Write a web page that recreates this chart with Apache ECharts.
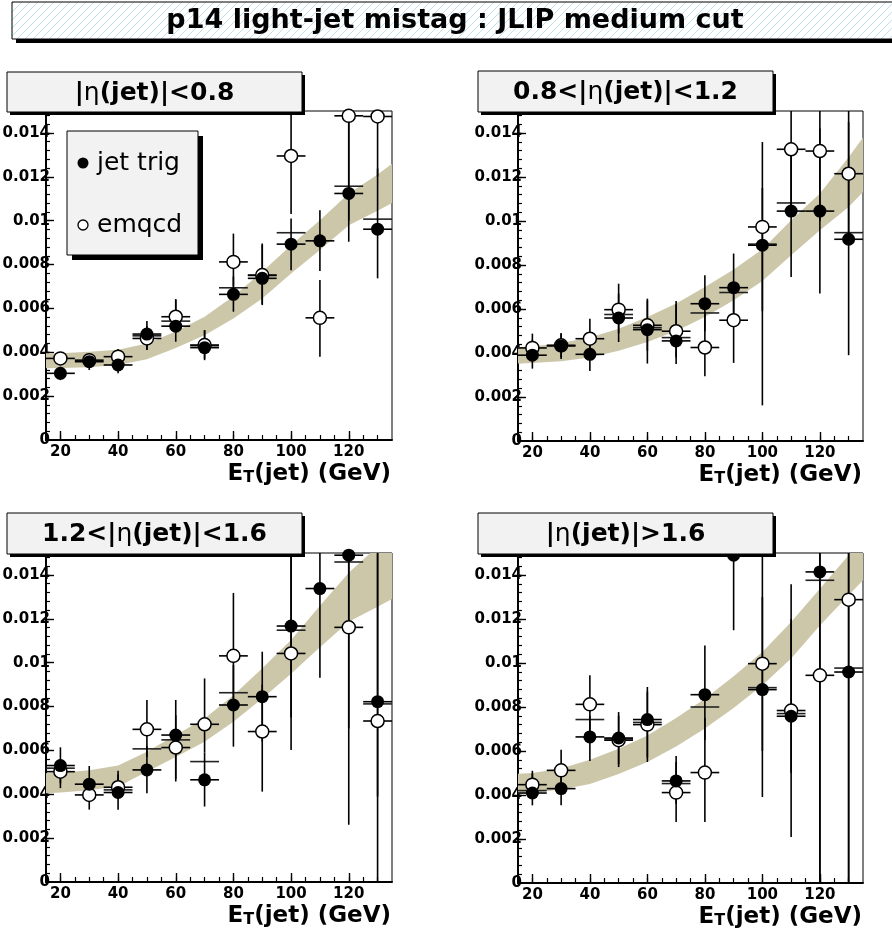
<!DOCTYPE html>
<html><head><meta charset="utf-8">
<script src="https://cdn.jsdelivr.net/npm/echarts@6/dist/echarts.min.js"></script>
<style>html,body{margin:0;padding:0;background:#fff}#c{width:892px;height:934px}</style>
</head><body><div id="c"></div>
<script>
// ---------------- data ----------------
const etBins = [20, 30, 40, 50, 60, 70, 80, 90, 100, 110, 120, 130];
const binHalfWidth = 5;
const xTickLabels = [20, 40, 60, 80, 100, 120];
const yTickLabels = [0, 0.002, 0.004, 0.006, 0.008, 0.01, 0.012, 0.014];
const bandX = [15, 20, 30, 40, 50, 60, 70, 80, 90, 100, 110, 120, 130, 135];

// panel 1 : |eta|<0.8
const p1JetVal = [3.04e-3, 3.57e-3, 3.42e-3, 4.83e-3, 5.19e-3, 4.21e-3, 6.64e-3, 7.37e-3, 8.93e-3, 9.08e-3, 11.24e-3, 9.61e-3];
const p1JetLo  = [2.73e-3, 3.19e-3, 3.04e-3, 4.10e-3, 4.48e-3, 3.64e-3, 5.85e-3, 6.15e-3, 7.74e-3, 7.70e-3, 9.04e-3, 7.37e-3];
const p1JetHi  = [3.34e-3, 3.90e-3, 3.80e-3, 5.42e-3, 6.42e-3, 5.01e-3, 7.45e-3, 8.96e-3, 10.1e-3, 10.48e-3, 16e-3, 12.38e-3];
const p1EmVal  = [3.72e-3, 3.64e-3, 3.80e-3, 4.63e-3, 5.62e-3, 4.33e-3, 8.12e-3, 7.52e-3, 12.95e-3, 5.57e-3, 14.78e-3, 14.75e-3];
const p1EmLo   = [3.45e-3, 3.35e-3, 3.50e-3, 4.10e-3, 4.90e-3, 3.70e-3, 7.00e-3, 6.20e-3, 10.3e-3, 3.80e-3, 10e-3, 12e-3];
const p1EmHi   = [3.98e-3, 3.95e-3, 4.15e-3, 5.20e-3, 6.40e-3, 5.00e-3, 9.41e-3, 8.90e-3, 16e-3, 7.30e-3, 16e-3, 16e-3];
const p1Extra  = [null, null, null, 4.75e-3, 5.42e-3, 4.30e-3, 6.94e-3, 7.50e-3, 9.45e-3, null, 11.57e-3, 10.07e-3];
const p1BandUp = [3.95e-3, 3.96e-3, 4.02e-3, 4.12e-3, 4.40e-3, 4.95e-3, 5.62e-3, 6.55e-3, 7.67e-3, 8.88e-3, 10.02e-3, 11.24e-3, 12.1e-3, 12.6e-3];
const p1BandLo = [3.27e-3, 3.28e-3, 3.32e-3, 3.42e-3, 3.68e-3, 4.20e-3, 4.78e-3, 5.54e-3, 6.45e-3, 7.59e-3, 8.66e-3, 9.79e-3, 10.45e-3, 10.8e-3];

// panel 2 : 0.8<|eta|<1.2
const p2JetVal = [3.90e-3, 4.32e-3, 3.94e-3, 5.59e-3, 5.06e-3, 4.55e-3, 6.24e-3, 6.97e-3, 8.90e-3, 10.45e-3, 10.45e-3, 9.17e-3];
const p2JetLo  = [3.29e-3, 3.73e-3, 3.18e-3, 4.50e-3, 3.52e-3, 3.50e-3, 5.00e-3, 5.50e-3, 1.62e-3, 7.45e-3, 6.70e-3, 3.90e-3];
const p2JetHi  = [4.60e-3, 4.90e-3, 4.70e-3, 6.70e-3, 6.47e-3, 6.36e-3, 7.53e-3, 8.52e-3, 11.5e-3, 13.5e-3, 14.2e-3, 14.5e-3];
const p2EmVal  = [4.23e-3, 4.35e-3, 4.65e-3, 5.97e-3, 5.26e-3, 4.99e-3, 4.25e-3, 5.49e-3, 9.73e-3, 13.26e-3, 13.18e-3, 12.15e-3];
const p2EmLo   = [3.60e-3, 3.80e-3, 3.90e-3, 4.90e-3, 4.10e-3, 3.80e-3, 2.94e-3, 3.55e-3, 5.90e-3, 10.5e-3, 10e-3, 9e-3];
const p2EmHi   = [4.88e-3, 4.90e-3, 5.56e-3, 7.15e-3, 6.40e-3, 6.20e-3, 5.86e-3, 7.00e-3, 13.59e-3, 16e-3, 16e-3, 16e-3];
const p2Extra  = [null, null, null, 5.75e-3, 5.15e-3, 4.70e-3, 5.82e-3, 6.75e-3, 8.95e-3, 10.82e-3, null, 9.47e-3];
const p2BandUp = [4.27e-3, 4.30e-3, 4.45e-3, 4.70e-3, 5.10e-3, 5.64e-3, 6.25e-3, 7.00e-3, 7.80e-3, 8.72e-3, 10.03e-3, 11.25e-3, 12.9e-3, 13.79e-3];
const p2BandLo = [3.52e-3, 3.54e-3, 3.62e-3, 3.79e-3, 4.10e-3, 4.50e-3, 5.00e-3, 5.64e-3, 6.40e-3, 7.27e-3, 8.44e-3, 9.58e-3, 10.64e-3, 11.32e-3];

// panel 3 : 1.2<|eta|<1.6
const p3JetVal = [5.31e-3, 4.46e-3, 4.08e-3, 5.11e-3, 6.70e-3, 4.66e-3, 8.07e-3, 8.45e-3, 11.67e-3, 13.38e-3, 14.9e-3, 8.22e-3];
const p3JetLo  = [4.28e-3, 3.67e-3, 3.29e-3, 4.05e-3, 4.58e-3, 3.44e-3, 6.17e-3, 6.40e-3, 6.02e-3, 9.31e-3, 2.61e-3, 0];
const p3JetHi  = [6.14e-3, 5.29e-3, 5.07e-3, 6.20e-3, 8.30e-3, 5.90e-3, 9.90e-3, 10.5e-3, 16e-3, 16e-3, 16e-3, 16e-3];
const p3EmVal  = [5.03e-3, 3.97e-3, 4.32e-3, 6.96e-3, 6.13e-3, 7.19e-3, 10.31e-3, 6.86e-3, 10.42e-3, null, 11.61e-3, 7.34e-3];
const p3EmLo   = [4.50e-3, 3.30e-3, 3.80e-3, 5.70e-3, 4.70e-3, 5.90e-3, 8.30e-3, 4.12e-3, 7.50e-3, null, 7e-3, 3.9e-3];
const p3EmHi   = [5.60e-3, 4.60e-3, 4.90e-3, 8.30e-3, 7.60e-3, 9.28e-3, 13.18e-3, 9.00e-3, 16e-3, null, 16e-3, 16e-3];
const p3Extra  = [5.19e-3, null, 4.20e-3, 6.07e-3, 6.48e-3, 5.49e-3, 8.63e-3, null, 11.48e-3, null, 14.59e-3, 8.12e-3];
const p3BandUp = [4.96e-3, 4.98e-3, 5.10e-3, 5.31e-3, 5.94e-3, 6.70e-3, 7.46e-3, 8.52e-3, 9.74e-3, 11.03e-3, 12.6e-3, 14.1e-3, 15.3e-3, 15.9e-3];
const p3BandLo = [4.05e-3, 4.08e-3, 4.18e-3, 4.35e-3, 5.03e-3, 5.70e-3, 6.40e-3, 7.31e-3, 8.37e-3, 9.50e-3, 10.7e-3, 11.86e-3, 12.55e-3, 12.9e-3];

// panel 4 : |eta|>1.6
const p4JetVal = [4.09e-3, 4.29e-3, 6.64e-3, 6.59e-3, 7.43e-3, 4.64e-3, 8.56e-3, 14.9e-3, 8.79e-3, 7.58e-3, 14.14e-3, 9.59e-3];
const p4JetLo  = [3.53e-3, 3.53e-3, 5.55e-3, 5.27e-3, 5.50e-3, 3.60e-3, 6.50e-3, 11.49e-3, 3.91e-3, 2.09e-3, 0, 0];
const p4JetHi  = [4.97e-3, 5.00e-3, 7.60e-3, 7.77e-3, 8.91e-3, 5.77e-3, 10.8e-3, 16e-3, 13e-3, 12e-3, 16e-3, 16e-3];
const p4EmVal  = [4.47e-3, 5.12e-3, 8.12e-3, 6.49e-3, 7.20e-3, 4.11e-3, 5.02e-3, null, 9.97e-3, 7.84e-3, 9.44e-3, 12.88e-3];
const p4EmLo   = [3.90e-3, 4.30e-3, 6.90e-3, 5.40e-3, 5.70e-3, 2.77e-3, 2.77e-3, null, 6e-3, 5e-3, 0, 0];
const p4EmHi   = [5.10e-3, 6.06e-3, 9.44e-3, 7.60e-3, 8.70e-3, 5.50e-3, 7.50e-3, null, 16e-3, 13.58e-3, 16e-3, 16e-3];
const p4Extra  = [4.20e-3, null, 7.43e-3, 6.55e-3, 7.30e-3, 4.52e-3, 8.00e-3, null, 8.88e-3, 7.70e-3, 13.76e-3, 9.77e-3];
const p4BandUp = [4.97e-3, 5.00e-3, 5.20e-3, 5.60e-3, 6.10e-3, 6.71e-3, 7.50e-3, 8.38e-3, 9.40e-3, 10.5e-3, 11.86e-3, 13.38e-3, 14.9e-3, 15.8e-3];
const p4BandLo = [4.06e-3, 4.10e-3, 4.25e-3, 4.50e-3, 4.95e-3, 5.50e-3, 6.20e-3, 7.02e-3, 7.95e-3, 8.99e-3, 10.2e-3, 11.71e-3, 13.08e-3, 13.76e-3];

const panelTitles = ['|{eta|η}(jet)|<0.8', '0.8<|{eta|η}(jet)|<1.2', '1.2<|{eta|η}(jet)|<1.6', '|{eta|η}(jet)|>1.6'];
const mainTitle = 'p14 light-jet mistag : JLIP medium cut';
const legendNames = ['jet trig', 'emqcd'];

// ---------------- layout ----------------
const FONT = '"DejaVu Sans", sans-serif';
const bandColor = '#cdc7aa';
const grids = [
  {left: 46, top: 111, width: 346, height: 329},
  {left: 518, top: 111, width: 345, height: 330},
  {left: 46, top: 553, width: 346, height: 329},
  {left: 518, top: 553, width: 345, height: 330}
];
const titleBoxes = [
  {x: 7, y: 72, w: 295, h: 40},
  {x: 478, y: 71, w: 295, h: 41},
  {x: 7, y: 513, w: 295, h: 41},
  {x: 478, y: 513, w: 295, h: 41}
];
const panels = [
  {jet: [p1JetVal, p1JetLo, p1JetHi], em: [p1EmVal, p1EmLo, p1EmHi], extra: p1Extra, up: p1BandUp, lo: p1BandLo},
  {jet: [p2JetVal, p2JetLo, p2JetHi], em: [p2EmVal, p2EmLo, p2EmHi], extra: p2Extra, up: p2BandUp, lo: p2BandLo},
  {jet: [p3JetVal, p3JetLo, p3JetHi], em: [p3EmVal, p3EmLo, p3EmHi], extra: p3Extra, up: p3BandUp, lo: p3BandLo},
  {jet: [p4JetVal, p4JetLo, p4JetHi], em: [p4EmVal, p4EmLo, p4EmHi], extra: p4Extra, up: p4BandUp, lo: p4BandLo}
];

const xMinorTicks = [];
for (let v = 20; v <= 130; v += 5) xMinorTicks.push(v);
const yMinorTicks = [];
for (let k = 1; k <= 37; k++) yMinorTicks.push(+(k * 0.0004).toFixed(4));

const grid = [], xAxis = [], yAxis = [], series = [];
const fmtY = v => String(+(+v).toFixed(3));

function errItem(params, api) {
  const x = api.value(0), v = api.value(1), lo = api.value(2), hi = api.value(3);
  const pl = api.coord([x, lo]), ph = api.coord([x, hi]);
  const pa = api.coord([x - binHalfWidth, v]), pb = api.coord([x + binHalfWidth, v]);
  const st = {stroke: '#000', lineWidth: 1.6};
  return {type: 'group', children: [
    {type: 'line', shape: {x1: pl[0], y1: pl[1], x2: ph[0], y2: ph[1]}, style: st},
    {type: 'line', shape: {x1: pa[0], y1: pa[1], x2: pb[0], y2: pb[1]}, style: st}
  ]};
}
function hItem(params, api) {
  const x = api.value(0), v = api.value(1);
  const pa = api.coord([x - binHalfWidth, v]), pb = api.coord([x + binHalfWidth, v]);
  return {type: 'line', shape: {x1: pa[0], y1: pa[1], x2: pb[0], y2: pb[1]}, style: {stroke: '#222', lineWidth: 1.6}};
}

panels.forEach((p, i) => {
  grid.push(Object.assign({show: true, borderColor: '#000', borderWidth: 1, backgroundColor: '#fff', containLabel: false, outerBoundsMode: 'none'}, grids[i]));
  xAxis.push({
    type: 'value', gridIndex: i, position: 'bottom', min: 15, max: 135,
    axisLine: {show: true, onZero: false, lineStyle: {color: '#000', width: 2}},
    axisTick: {show: true, inside: true, length: 5, customValues: xMinorTicks, lineStyle: {color: '#000', width: 1.2}},
    axisLabel: {show: true, customValues: xTickLabels, margin: 5, color: '#000', fontFamily: FONT, fontWeight: 'bold', fontSize: 15},
    splitLine: {show: false}
  });
  xAxis.push({
    type: 'value', gridIndex: i, position: 'bottom', min: 15, max: 135,
    axisLine: {show: false},
    axisTick: {show: true, inside: true, length: 9, customValues: xTickLabels, lineStyle: {color: '#000', width: 1.4}},
    axisLabel: {show: false}, splitLine: {show: false}
  });
  yAxis.push({
    type: 'value', gridIndex: i, position: 'left', min: 0, max: 0.015,
    axisLine: {show: true, onZero: false, lineStyle: {color: '#000', width: 2}},
    axisTick: {show: true, inside: true, length: 4, customValues: yMinorTicks, lineStyle: {color: '#000', width: 1.2}},
    axisLabel: {show: true, customValues: yTickLabels, formatter: fmtY, margin: -4, color: '#000', fontFamily: FONT, fontWeight: 'bold', fontSize: 15},
    splitLine: {show: false}
  });
  yAxis.push({
    type: 'value', gridIndex: i, position: 'left', min: 0, max: 0.015,
    axisLine: {show: false},
    axisTick: {show: true, inside: true, length: 8, customValues: yTickLabels.slice(1), lineStyle: {color: '#000', width: 1.4}},
    axisLabel: {show: false}, splitLine: {show: false}
  });
  const xi = 2 * i, yi = 2 * i;
  // band
  series.push({
    type: 'custom', xAxisIndex: xi, yAxisIndex: yi, clip: true, z: 1, silent: true,
    data: [[bandX[0], p.up[0]]],
    renderItem: (params, api) => {
      const pts = [];
      for (let k = 0; k < bandX.length; k++) pts.push(api.coord([bandX[k], p.up[k]]));
      for (let k = bandX.length - 1; k >= 0; k--) pts.push(api.coord([bandX[k], p.lo[k]]));
      return {type: 'polygon', shape: {points: pts}, style: {fill: bandColor}};
    }
  });
  // extra horizontal lines
  series.push({
    type: 'custom', xAxisIndex: xi, yAxisIndex: yi, clip: true, z: 2, silent: true,
    data: etBins.map((x, k) => [x, p.extra[k]]).filter(d => d[1] != null),
    renderItem: hItem
  });
  const mk = arr => etBins.map((x, k) => [x, arr[0][k], arr[1][k], arr[2][k]]).filter(d => d[1] != null);
  series.push({type: 'custom', xAxisIndex: xi, yAxisIndex: yi, clip: true, z: 3, silent: true, data: mk(p.jet), renderItem: errItem});
  series.push({type: 'custom', xAxisIndex: xi, yAxisIndex: yi, clip: true, z: 3, silent: true, data: mk(p.em), renderItem: errItem});
  series.push({
    type: 'scatter', name: legendNames[0], xAxisIndex: xi, yAxisIndex: yi, z: 5, symbol: 'circle', symbolSize: 13,
    itemStyle: {color: '#000', opacity: 1}, data: mk(p.jet).map(d => [d[0], d[1]])
  });
  series.push({
    type: 'scatter', name: legendNames[1], xAxisIndex: xi, yAxisIndex: yi, z: 4, symbol: 'circle', symbolSize: 13,
    itemStyle: {color: '#fff', borderColor: '#000', borderWidth: 1.5, opacity: 1}, data: mk(p.em).map(d => [d[0], d[1]])
  });
});

// ---------------- graphics: titles, legend, axis titles ----------------
const pc = document.createElement('canvas');
pc.width = 8; pc.height = 8;
const g2 = pc.getContext('2d');
g2.fillStyle = '#ffffff'; g2.fillRect(0, 0, 8, 8);
g2.strokeStyle = '#bfe0ec'; g2.lineWidth = 1;
g2.beginPath(); g2.moveTo(0, 8); g2.lineTo(8, 0); g2.stroke();

const elements = [];
// main title
elements.push({type: 'rect', z: 100, shape: {x: 16, y: 5, width: 900, height: 38}, style: {fill: '#000'}});
elements.push({type: 'rect', z: 101, shape: {x: 12, y: 2, width: 900, height: 37}, style: {fill: {image: pc, repeat: 'repeat'}, stroke: '#000', lineWidth: 1}});
elements.push({type: 'text', z: 102, x: 455, y: 21, style: {text: mainTitle, fill: '#000', font: 'bold 27px ' + FONT, textAlign: 'center', textVerticalAlign: 'middle'}});

titleBoxes.forEach((b, i) => {
  elements.push({type: 'rect', z: 100, shape: {x: b.x + 3, y: b.y + 3, width: b.w, height: b.h}, style: {fill: '#000'}});
  elements.push({type: 'rect', z: 101, shape: {x: b.x, y: b.y, width: b.w, height: b.h}, style: {fill: '#f2f2f2', stroke: '#000', lineWidth: 1}});
  elements.push({type: 'text', z: 102, x: b.x + b.w / 2, y: b.y + b.h / 2 + 1, style: {
    text: panelTitles[i], fill: '#000', font: 'bold 25px ' + FONT, textAlign: 'center', textVerticalAlign: 'middle',
    rich: {eta: {fontFamily: FONT, fontWeight: 'normal', fontSize: 25, fill: '#000'}}
  }});
  const gr = grids[i];
  elements.push({type: 'text', z: 102, x: gr.left + gr.width - 1, y: gr.top + gr.height + 33, style: {
    text: '{b|E}{s|T}{b|(jet) (GeV)}', textAlign: 'right', textVerticalAlign: 'middle',
    rich: {
      b: {fontFamily: FONT, fontWeight: 'bold', fontSize: 23, lineHeight: 26, fill: '#000', verticalAlign: 'bottom'},
      s: {fontFamily: FONT, fontWeight: 'bold', fontSize: 16, lineHeight: 22, fill: '#000', verticalAlign: 'bottom'}
    }
  }});
});

// legend (panel 1)
elements.push({type: 'rect', z: 100, shape: {x: 72, y: 136, width: 131, height: 124}, style: {fill: '#000'}});
elements.push({type: 'rect', z: 101, shape: {x: 67, y: 131, width: 131, height: 124}, style: {fill: '#f2f2f2', stroke: '#000', lineWidth: 1}});
elements.push({type: 'circle', z: 102, shape: {cx: 83, cy: 163, r: 5.5}, style: {fill: '#000'}});
elements.push({type: 'circle', z: 102, shape: {cx: 83, cy: 225, r: 5}, style: {fill: '#fff', stroke: '#000', lineWidth: 1.3}});
elements.push({type: 'text', z: 102, x: 97, y: 163, style: {text: legendNames[0], fill: '#000', font: '25px ' + FONT, textVerticalAlign: 'middle'}});
elements.push({type: 'text', z: 102, x: 97, y: 225, style: {text: legendNames[1], fill: '#000', font: '25px ' + FONT, textVerticalAlign: 'middle'}});

const chart = echarts.init(document.getElementById('c'), null, {renderer: 'canvas'});
chart.setOption({
  backgroundColor: '#fff',
  animation: false,
  grid, xAxis, yAxis, series,
  graphic: {elements}
});
</script>
</body></html>
